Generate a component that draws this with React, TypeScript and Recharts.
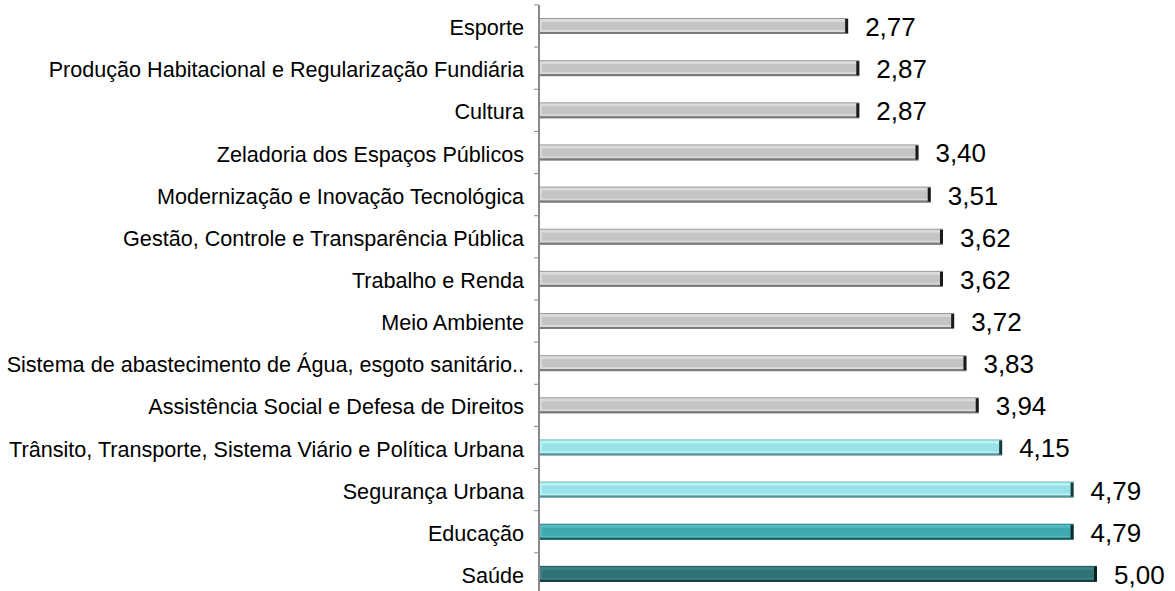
import React from "react";
import { BarChart, Bar, XAxis, YAxis, LabelList, Cell } from "recharts";

const categories = [
  "Esporte",
  "Produção Habitacional e Regularização Fundiária",
  "Cultura",
  "Zeladoria dos Espaços Públicos",
  "Modernização e Inovação Tecnológica",
  "Gestão, Controle e Transparência Pública",
  "Trabalho e Renda",
  "Meio Ambiente",
  "Sistema de abastecimento de Água, esgoto sanitário..",
  "Assistência Social e Defesa de Direitos",
  "Trânsito, Transporte, Sistema Viário e Política Urbana",
  "Segurança Urbana",
  "Educação",
  "Saúde",
];
const values = [2.77, 2.87, 2.87, 3.4, 3.51, 3.62, 3.62, 3.72, 3.83, 3.94, 4.15, 4.79, 4.79, 5.0];
const groups = ["gray", "gray", "gray", "gray", "gray", "gray", "gray", "gray", "gray", "gray", "cyan", "cyan", "teal", "dark"];

const palettes: Record<string, { base: string; light: string; edge: string; bottom: string; cap: string }> = {
  gray: { base: "#c4c4c4", light: "#dadada", edge: "#9a9a9a", bottom: "#7a7a7a", cap: "#1a1a1a" },
  cyan: { base: "#98e2e7", light: "#b6f3f6", edge: "#6fb5bb", bottom: "#5a8f93", cap: "#1d3a3c" },
  teal: { base: "#40a9af", light: "#52bcc2", edge: "#2c8185", bottom: "#1d5d60", cap: "#0e2a2b" },
  dark: { base: "#2f7174", light: "#3a8084", edge: "#225a5c", bottom: "#153c3e", cap: "#0a1f20" },
};

const data = categories.map((name, i) => ({ name, value: values[i], group: groups[i] }));

const BevelBar = (props: any) => {
  const { x, y, width, height, payload } = props;
  const p = palettes[payload.group];
  if (width <= 0) return null;
  return (
    <g>
      <rect x={x} y={y} width={width} height={height} fill={p.edge} />
      <rect x={x + 1} y={y + 1} width={width - 2} height={height - 3} fill={p.light} />
      <rect x={x + 3} y={y + 4} width={width - 6} height={height - 8} fill={p.base} />
      <rect x={x} y={y + height - 2} width={width} height={2} fill={p.bottom} />
      <rect x={x + width - 3} y={y + 1} width={3} height={height - 2} fill={p.cap} />
    </g>
  );
};

const ROW = 590 / 14;
const FONT = "'Liberation Sans', Arial, sans-serif";

const CatTick = (props: any) => {
  const { x, y, payload, index } = props;
  return (
    <g>
      <text x={x - 6} y={y} dy={9} textAnchor="end" fontSize={21.6} fill="#000" fontFamily={FONT}>
        {payload.value}
      </text>
      <line x1={x + 4} x2={x + 9} y1={y - ROW / 2} y2={y - ROW / 2} stroke="#888" strokeWidth={1} />
      {index === categories.length - 1 && (
        <line x1={x + 4} x2={x + 9} y1={y + ROW / 2} y2={y + ROW / 2} stroke="#888" strokeWidth={1} />
      )}
    </g>
  );
};

const ValueLabel = (props: any) => {
  const { x, y, width, height, value } = props;
  return (
    <text x={x + width + 17} y={y + height / 2 + 10} fontSize={26} fill="#000" fontFamily={FONT}>
      {Number(value).toFixed(2).replace(".", ",")}
    </text>
  );
};

export default function App() {
  return (
    <div style={{ position: "absolute", left: 0, top: 0, background: "#fff" }}>
      <BarChart
        width={1175}
        height={600}
        data={data}
        layout="vertical"
        margin={{ top: 5, right: 78, bottom: 5, left: 0 }}
        barCategoryGap={0}
      >
        <XAxis type="number" domain={[0, 5]} hide />
        <YAxis
          type="category"
          dataKey="name"
          width={539}
          axisLine={{ stroke: "#888", strokeWidth: 2 }}
          tickLine={false}
          tickSize={6}
          tickMargin={3}
          tick={<CatTick />}
          interval={0}
        />
        <Bar dataKey="value" barSize={16} shape={<BevelBar />} isAnimationActive={false}>
          {data.map((d, i) => (
            <Cell key={i} />
          ))}
          <LabelList dataKey="value" content={<ValueLabel />} />
        </Bar>
      </BarChart>
    </div>
  );
}
